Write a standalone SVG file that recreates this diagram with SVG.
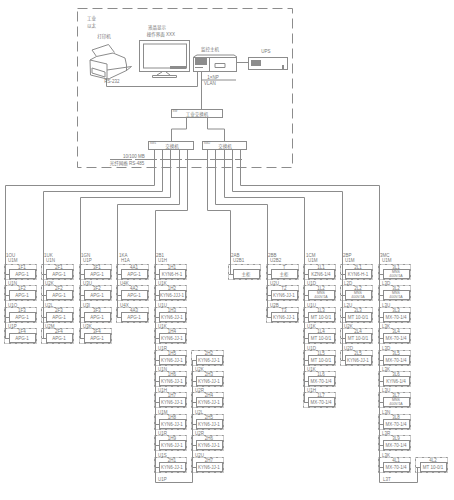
<svg xmlns="http://www.w3.org/2000/svg" xmlns:xlink="http://www.w3.org/1999/xlink" width="454" height="500" viewBox="0 0 454 500">
<style>
text{font-family:"Liberation Sans","Noto Sans CJK SC",sans-serif;font-size:4.5px;fill:#777;text-anchor:middle}
.l{text-anchor:start}
.ln,.ln *{fill:none;stroke:#8c8c8c;stroke-width:1}
.box{fill:#fff;stroke:#8c8c8c;stroke-width:1}
.od{fill:none;stroke:#8c8c8c;stroke-width:.9;stroke-dasharray:3 1 1 1}
.fill{fill:#8c8c8c;stroke:none}
</style>
<defs>
<g id="cell"><rect class="od" x=".5" y=".5" width="32" height="15"/><rect class="box" x="5.5" y="5.5" width="26" height="9"/><path class="ln" d="M1 10.5H5"/></g>
</defs>
<rect id="boundary" x="77.5" y="8.5" width="215" height="159" fill="none" stroke="#8c8c8c" stroke-width="1" stroke-dasharray="10 5"/>
<g id="connectors" class="ln">
<path d="M201.5 71V109M201.5 80H236M106.500 78V86.5H197.5V71M237 62.5H248"/>
<path d="M186.5 117V129H171.5V141M207.5 117V129H224.5V141"/>
<path d="M110 159.500H242" stroke-dasharray="22 3"/>
<path d="M154.500 149V185.500H5.500V338"/>
<path d="M162.500 149V191.500H43.500V338"/>
<path d="M170.500 149V197.500H80.500V338"/>
<path d="M179.500 149V204.500H117.500V317"/>
<path d="M187.500 149V210.500H155.500V482.500H192.500V360"/>
<path d="M207.500 149V210.500H230.500V274"/>
<path d="M215.500 149V204.500H267.500V317"/>
<path d="M224.500 149V197.500H304.500V402"/>
<path d="M232.500 149V191.500H342.500V360"/>
<path d="M240.500 149V185.500H379.500V482.500H417.500V467.500H420"/>
</g>
<g id="printer" class="ln"><path d="M92 50 108.500 44.500 114.500 52.500M92 50 96.500 56.500M90 60 96.500 56.500 113 53 125 58 126.500 65V71M90 60 90.500 75 107 79M90 60 107 64V79M92 68 105 72V77L92 73ZM107 70 131.500 66.500 126.500 70.500 109.500 78.500 107 79"/><text x="112" y="83" style="stroke:none;fill:#777">RS-232</text><text x="104" y="38" style="stroke:none;fill:#777">打印机</text></g>
<g id="monitor"><rect x="139.500" y="40.500" width="50" height="31" fill="#fff" stroke="#8c8c8c"/><rect x="143.500" y="44" width="43" height="24" fill="none" stroke="#8c8c8c"/><path class="fill" d="M170 66h16v3h-16z"/><path class="ln" d="M162 72 157 75M166 72 170 75M152.500 75.500H176.500V77.500H152.500Z"/><text x="157" y="29">液晶显示</text><text x="161" y="36">操作界面 XXX</text></g>
<g id="pc"><path class="ln" d="M193.500 57 197 55H234L237 57"/><rect x="193.500" y="57.500" width="43" height="14" fill="#fff" stroke="#8c8c8c"/><rect class="fill" x="195" y="58" width="12" height="7"/><path class="ln" d="M209.500 57.500V71.500M195 67.500H203M215 63.500H225V67.500H215Z"/><text x="210" y="51">监控主机</text></g>
<g id="ups"><rect x="248.500" y="57.500" width="39" height="12" fill="#fff" stroke="#8c8c8c"/><rect class="fill" x="251" y="60" width="10" height="6"/><path class="fill" d="M282 65h2v4h-2z"/><text x="266" y="53">UPS</text></g>
<text x="213" y="79">1×NP</text><text x="210" y="85">VLAN</text>
<text class="l" x="87" y="20">工业</text><text class="l" x="87" y="27">以太</text>
<g id="sw0"><rect class="box" x="171.500" y="109.500" width="51" height="8"/><text x="197" y="115.500">工业交换机</text><text x="175" y="112" style="font-size:3px">SW</text></g>
<g id="sw1"><rect class="box" x="148.500" y="141.500" width="45" height="8"/><text x="172" y="147.500">交换机</text><text x="153" y="144" style="font-size:3px">SW1</text></g>
<g id="sw2"><rect class="box" x="202.500" y="141.500" width="44" height="8"/><text x="225" y="147.500">交换机</text><text x="207" y="144" style="font-size:3px">SW2</text></g>
<text x="134" y="158">10/100 MB</text><text x="127" y="164.500">光纤网络 RS-485</text>

<g id="c1"><text class="l" x="6" y="257">1OU</text><text class="l" x="8" y="262">U1M</text>
<g transform="translate(4 264)"><use href="#cell"/><text x="18" y="4.500">1F1</text><text x="18" y="12">APG-1</text></g>
<g transform="translate(4 285)"><use href="#cell"/><text x="18" y="4.500">1F2</text><text x="18" y="12">APG-1</text><text class="l" x="4" y="-.5">U1N</text></g>
<g transform="translate(4 307)"><use href="#cell"/><text x="18" y="4.500">1F3</text><text x="18" y="12">APG-1</text><text class="l" x="4" y="-.5">U1O</text></g>
<g transform="translate(4 328)"><use href="#cell"/><text x="18" y="4.500">1F4</text><text x="18" y="12">APG-1</text><text class="l" x="4" y="-.5">U1P</text></g></g>

<g id="c2"><text class="l" x="44" y="257">1UK</text><text class="l" x="46" y="262">U1N</text>
<g transform="translate(41 264)"><use href="#cell"/><text x="18" y="4.500">2F1</text><text x="18" y="12">APG-1</text></g>
<g transform="translate(41 285)"><use href="#cell"/><text x="18" y="4.500">2F2</text><text x="18" y="12">APG-1</text><text class="l" x="4" y="-.5">U2K</text></g>
<g transform="translate(41 307)"><use href="#cell"/><text x="18" y="4.500">2F3</text><text x="18" y="12">APG-1</text><text class="l" x="4" y="-.5">U2L</text></g>
<g transform="translate(41 328)"><use href="#cell"/><text x="18" y="4.500">2F4</text><text x="18" y="12">APG-1</text><text class="l" x="4" y="-.5">U2M</text></g></g>

<g id="c3"><text class="l" x="81" y="257">1GN</text><text class="l" x="83" y="262">U1P</text>
<g transform="translate(79 264)"><use href="#cell"/><text x="18" y="4.500">3F1</text><text x="18" y="12">APG-1</text></g>
<g transform="translate(79 285)"><use href="#cell"/><text x="18" y="4.500">3F2</text><text x="18" y="12">APG-1</text><text class="l" x="4" y="-.5">U3U</text></g>
<g transform="translate(79 307)"><use href="#cell"/><text x="18" y="4.500">3F3</text><text x="18" y="12">APG-1</text><text class="l" x="4" y="-.5">U3I</text></g>
<g transform="translate(79 328)"><use href="#cell"/><text x="18" y="4.500">3F4</text><text x="18" y="12">APG-1</text><text class="l" x="4" y="-.5">U3K</text></g></g>

<g id="c4"><text class="l" x="119" y="257">1KA</text><text class="l" x="121" y="262">H1A</text>
<g transform="translate(116 264)"><use href="#cell"/><text x="18" y="4.500">4A1</text><text x="18" y="12">APG-1</text></g>
<g transform="translate(116 285)"><use href="#cell"/><text x="18" y="4.500">4A2</text><text x="18" y="12">APG-1</text><text class="l" x="4" y="-.5">U4K</text></g>
<g transform="translate(116 307)"><use href="#cell"/><text x="18" y="4.500">4A3</text><text x="18" y="12">APG-1</text><text class="l" x="4" y="-.5">U4X</text></g></g>

<g id="c5"><text class="l" x="156" y="257">2B1</text><text class="l" x="158" y="262">U1H</text>
<g transform="translate(154 264)"><use href="#cell"/><text x="18" y="4.500">1H1</text><text x="18" y="12">KYN6-H-1</text></g>
<g transform="translate(154 285)"><use href="#cell"/><text x="18" y="4.500">1H2</text><text x="18" y="12">KYN6-JJJ-1</text><text class="l" x="4" y="-.5">U1K</text></g>
<g transform="translate(154 307)"><use href="#cell"/><text x="18" y="4.500">1H3</text><text x="18" y="12">KYN6-JJ-1</text><text class="l" x="4" y="-.5">U1U</text></g>
<g transform="translate(154 328)"><use href="#cell"/><text x="18" y="4.500">1H4</text><text x="18" y="12">KYN6-JJ-1</text><text class="l" x="4" y="-.5">U1K</text></g>
<g transform="translate(154 350)"><use href="#cell"/><text x="18" y="4.500">1H5</text><text x="18" y="12">KYN6-JJ-1</text><text class="l" x="4" y="-.5">U1R</text></g>
<g transform="translate(154 371)"><use href="#cell"/><text x="18" y="4.500">1H6</text><text x="18" y="12">KYN6-JJ-1</text><text class="l" x="4" y="-.5">U1N</text></g>
<g transform="translate(154 392)"><use href="#cell"/><text x="18" y="4.500">1H7</text><text x="18" y="12">KYN6-JJ-1</text><text class="l" x="4" y="-.5">U1H</text></g>
<g transform="translate(154 414)"><use href="#cell"/><text x="18" y="4.500">1H8</text><text x="18" y="12">KYN6-JJ-1</text><text class="l" x="4" y="-.5">U1M</text></g>
<g transform="translate(154 435)"><use href="#cell"/><text x="18" y="4.500">1H9</text><text x="18" y="12">KYN6-JJ-1</text><text class="l" x="4" y="-.5">U1R</text></g>
<g transform="translate(154 457)"><use href="#cell"/><text x="18" y="4.500">2H1</text><text x="18" y="12">KYN6-JJ-1</text><text class="l" x="4" y="-.5">U1S</text></g>
<text class="l" x="158" y="481">U1P</text></g>

<g id="c5b">
<g transform="translate(191 350)"><use href="#cell"/><text x="18" y="4.500">2H2</text><text x="18" y="12">KYN6-JJ-1</text></g>
<g transform="translate(191 371)"><use href="#cell"/><text x="18" y="4.500">2H3</text><text x="18" y="12">KYN6-JJ-1</text><text class="l" x="4" y="-.5">U2K</text></g>
<g transform="translate(191 392)"><use href="#cell"/><text x="18" y="4.500">2H4</text><text x="18" y="12">KYN6-JJ-1</text><text class="l" x="4" y="-.5">U2R</text></g>
<g transform="translate(191 414)"><use href="#cell"/><text x="18" y="4.500">2H5</text><text x="18" y="12">KYN6-JJ-1</text><text class="l" x="4" y="-.5">U2L</text></g>
<g transform="translate(191 435)"><use href="#cell"/><text x="18" y="4.500">2H6</text><text x="18" y="12">KYN6-JJ-1</text><text class="l" x="4" y="-.5">U2R</text></g>
<g transform="translate(191 457)"><use href="#cell"/><text x="18" y="4.500">2H7</text><text x="18" y="12">KYN6-JJ-1</text><text class="l" x="4" y="-.5">U2U</text></g></g>

<g id="c6"><text class="l" x="231" y="257">2AB</text><text class="l" x="233" y="262">U2B1</text>
<g transform="translate(228 264)"><use href="#cell"/><text x="18" y="12">主柜</text></g></g>

<g id="c7"><text class="l" x="268" y="257">2BB</text><text class="l" x="270" y="262">U2B2</text>
<g transform="translate(266 264)"><use href="#cell"/><text x="18" y="4.500">T</text><text x="18" y="12">主柜</text></g>
<g transform="translate(266 285)"><use href="#cell"/><text x="18" y="4.500">T2</text><text x="18" y="12">KYN6-JJ-1</text><text class="l" x="4" y="-.5">U2U</text></g>
<g transform="translate(266 307)"><use href="#cell"/><text x="18" y="4.500">T3</text><text x="18" y="12">KYN6-JJ-1</text><text class="l" x="4" y="-.5">U2B</text></g></g>

<g id="c8"><text class="l" x="306" y="257">1CM</text><text class="l" x="308" y="262">U1M</text>
<g transform="translate(303 264)"><use href="#cell"/><text x="18" y="4.500">1L1</text><text x="18" y="12">KZN6-1/4</text></g>
<g transform="translate(303 285)"><use href="#cell"/><text x="18" y="4.500">1L2</text><text x="18" y="9" style="font-size:3.500px">MNS</text><text x="18" y="13" style="font-size:3.500px">400V/1A</text><text class="l" x="4" y="-.5">U1D</text></g>
<g transform="translate(303 307)"><use href="#cell"/><text x="18" y="4.500">1L3</text><text x="18" y="12">MT 10-0/1</text><text class="l" x="4" y="-.5">U1U</text></g>
<g transform="translate(303 328)"><use href="#cell"/><text x="18" y="4.500">1L4</text><text x="18" y="12">MT 10-0/1</text><text class="l" x="4" y="-.5">U1K</text></g>
<g transform="translate(303 350)"><use href="#cell"/><text x="18" y="4.500">1L5</text><text x="18" y="12">MT 10-0/1</text><text class="l" x="4" y="-.5">U1D</text></g>
<g transform="translate(303 371)"><use href="#cell"/><text x="18" y="4.500">1L6</text><text x="18" y="12">MX-70-1/4</text><text class="l" x="4" y="-.5">U1K</text></g>
<g transform="translate(303 392)"><use href="#cell"/><text x="18" y="4.500">1L7</text><text x="18" y="12">MX-70-1/4</text><text class="l" x="4" y="-.5">U1H</text></g></g>

<g id="c9"><text class="l" x="343" y="257">2BP</text><text class="l" x="345" y="262">U1M</text>
<g transform="translate(340 264)"><use href="#cell"/><text x="18" y="4.500">2L1</text><text x="18" y="12">KYN6-H-1</text></g>
<g transform="translate(340 285)"><use href="#cell"/><text x="18" y="4.500">2L2</text><text x="18" y="9" style="font-size:3.500px">MNS</text><text x="18" y="13" style="font-size:3.500px">400V/1A</text><text class="l" x="4" y="-.5">L2D</text></g>
<g transform="translate(340 307)"><use href="#cell"/><text x="18" y="4.500">2L3</text><text x="18" y="12">MT 10-0/1</text><text class="l" x="4" y="-.5">L2U</text></g>
<g transform="translate(340 328)"><use href="#cell"/><text x="18" y="4.500">2L4</text><text x="18" y="12">MT 10-0/1</text><text class="l" x="4" y="-.5">U2K</text></g>
<g transform="translate(340 350)"><use href="#cell"/><text x="18" y="4.500">2L5</text><text x="18" y="12">KYN6-JJ-1</text><text class="l" x="4" y="-.5">U2D</text></g></g>

<g id="c10"><text class="l" x="380" y="257">3MC</text><text class="l" x="382" y="262">U1M</text>
<g transform="translate(378 264)"><use href="#cell"/><text x="18" y="4.500">3L1</text><text x="18" y="9" style="font-size:3.500px">MNS</text><text x="18" y="13" style="font-size:3.500px">400V/1A</text></g>
<g transform="translate(378 285)"><use href="#cell"/><text x="18" y="4.500">3L2</text><text x="18" y="9" style="font-size:3.500px">MNS</text><text x="18" y="13" style="font-size:3.500px">400V/1A</text><text class="l" x="4" y="-.5">L3D</text></g>
<g transform="translate(378 307)"><use href="#cell"/><text x="18" y="4.500">3L3</text><text x="18" y="12">MX-70-1/4</text><text class="l" x="4" y="-.5">L3U</text></g>
<g transform="translate(378 328)"><use href="#cell"/><text x="18" y="4.500">3L4</text><text x="18" y="12">MX-70-1/4</text><text class="l" x="4" y="-.5">L3K</text></g>
<g transform="translate(378 350)"><use href="#cell"/><text x="18" y="4.500">3L5</text><text x="18" y="12">MX-70-1/4</text><text class="l" x="4" y="-.5">L3D</text></g>
<g transform="translate(378 371)"><use href="#cell"/><text x="18" y="4.500">3L6</text><text x="18" y="12">KYN6-1/4</text><text class="l" x="4" y="-.5">L3K</text></g>
<g transform="translate(378 392)"><use href="#cell"/><text x="18" y="4.500">3L7</text><text x="18" y="9" style="font-size:3.500px">MNS</text><text x="18" y="13" style="font-size:3.500px">400V/1A</text><text class="l" x="4" y="-.5">L3U</text></g>
<g transform="translate(378 414)"><use href="#cell"/><text x="18" y="4.500">3L8</text><text x="18" y="12">MX-70-1/4</text><text class="l" x="4" y="-.5">L3N</text></g>
<g transform="translate(378 435)"><use href="#cell"/><text x="18" y="4.500">3L9</text><text x="18" y="12">MX-70-1/4</text><text class="l" x="4" y="-.5">L3R</text></g>
<g transform="translate(378 457)"><use href="#cell"/><text x="18" y="4.500">4L1</text><text x="18" y="12">MX-70-1/4</text><text class="l" x="4" y="-.5">L3K</text></g>
<text class="l" x="383" y="481">L3T</text></g>

<g id="c11"><g transform="translate(415 457)"><use href="#cell"/><text x="18" y="4.500">4L2</text><text x="18" y="12">MT 10-0/1</text></g></g>
</svg>
